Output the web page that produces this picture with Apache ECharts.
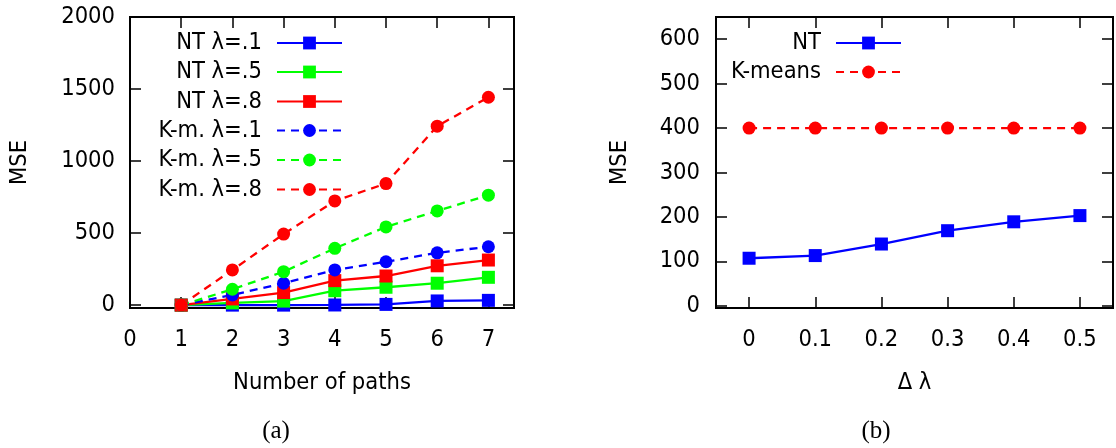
<!DOCTYPE html>
<html>
<head>
<meta charset="utf-8">
<script src="https://cdn.jsdelivr.net/npm/echarts@6/dist/echarts.min.js"></script>
<style>
html,body{margin:0;padding:0;background:#fff;}
#chart{width:1116px;height:448px;}
</style>
</head>
<body>
<div id="chart"></div>
<script>
// ---- Data (a): MSE vs number of paths ----
const paths = [1, 2, 3, 4, 5, 6, 7];
const ntL1 = [0, 0, 0, 1, 5, 29, 33];
const ntL5 = [0, 15, 28, 100, 124, 152, 193];
const ntL8 = [0, 43, 87, 170, 202, 273, 313];
const kmL1 = [0, 71, 152, 244, 301, 363, 405];
const kmL5 = [0, 110, 232, 394, 543, 654, 763];
const kmL8 = [0, 244, 493, 723, 844, 1242, 1443];
const xTicksA = [0, 1, 2, 3, 4, 5, 6, 7];
const yTicksA = [0, 500, 1000, 1500, 2000];

// ---- Data (b): MSE vs delta lambda ----
const dLambda = [0, 0.1, 0.2, 0.3, 0.4, 0.5];
const ntB = [107, 113, 139, 169, 189, 203];
const kmB = [400, 400, 400, 400, 400, 400];
const xTicksB = [0, 0.1, 0.2, 0.3, 0.4, 0.5];
const yTicksB = [0, 100, 200, 300, 400, 500, 600];

const FONT = "'DejaVu Sans Condensed', 'DejaVu Sans', sans-serif";
const FS = 23.5;
const SERIF = "'Liberation Serif', 'Times New Roman', serif";
const BLUE = '#0000ff', GREEN = '#00ff00', RED = '#ff0000';
const DASH = [8, 6];

function pairs(xs, ys) { return xs.map((x, i) => [x, ys[i]]); }

function mkSeries(name, xs, ys, color, dashed, sym, xi, yi) {
  return {
    name, type: 'line', xAxisIndex: xi, yAxisIndex: yi,
    data: pairs(xs, ys),
    symbol: sym, symbolSize: 13, clip: false,
    lineStyle: { color, width: 2.3, type: dashed ? DASH : 'solid' },
    itemStyle: { color },
    emphasis: { disabled: true },
    animation: false
  };
}

const tickStyle = { show: true, inside: true, length: 11, lineStyle: { color: '#000', width: 1.5 } };
const labelStyle = { color: '#000', fontFamily: FONT, fontSize: FS, formatter: v => String(v) };

function mainX(gi, min, max, ticks, name) {
  return {
    type: 'value', gridIndex: gi, min, max, position: 'bottom',
    axisLine: { show: false, onZero: false },
    axisTick: Object.assign({}, tickStyle, { customValues: ticks }),
    axisLabel: Object.assign({}, labelStyle, { customValues: ticks, margin: 20 }),
    splitLine: { show: false },
    name, nameLocation: 'middle', nameGap: 63,
    nameTextStyle: { color: '#000', fontFamily: FONT, fontSize: FS }
  };
}
function mirrorX(gi, min, max, ticks) {
  return {
    type: 'value', gridIndex: gi, min, max, position: 'top',
    axisLine: { show: false, onZero: false },
    axisTick: Object.assign({}, tickStyle, { customValues: ticks }),
    axisLabel: { show: false }, splitLine: { show: false }
  };
}
function mainY(gi, min, max, ticks, margin, nameGap) {
  return {
    type: 'value', gridIndex: gi, min, max, position: 'left',
    axisLine: { show: false, onZero: false },
    axisTick: Object.assign({}, tickStyle, { customValues: ticks }),
    axisLabel: Object.assign({}, labelStyle, { customValues: ticks, margin }),
    splitLine: { show: false },
    name: 'MSE', nameLocation: 'middle', nameGap, nameRotate: 90,
    nameTextStyle: { color: '#000', fontFamily: FONT, fontSize: FS }
  };
}
function mirrorY(gi, min, max, ticks) {
  return {
    type: 'value', gridIndex: gi, min, max, position: 'right',
    axisLine: { show: false, onZero: false },
    axisTick: Object.assign({}, tickStyle, { customValues: ticks }),
    axisLabel: { show: false }, splitLine: { show: false }
  };
}

function legendRow(name, right, centerY) {
  return {
    data: [name], orient: 'horizontal', align: 'right',
    right, top: centerY - 12, padding: 0,
    itemWidth: 65, itemHeight: 16, selectedMode: false,
    textStyle: { color: '#000', fontFamily: FONT, fontSize: FS, lineHeight: 24, padding: [0, 10, 0, 0] }
  };
}

const legNamesA = ['NT λ=.1', 'NT λ=.5', 'NT λ=.8', 'K-m. λ=.1', 'K-m. λ=.5', 'K-m. λ=.8'];
const legRowsA = [43, 72, 101.5, 130.5, 160, 189.5];
const legNamesB = ['NT', 'K-means'];
const legRowsB = [43, 72];

const chart = echarts.init(document.getElementById('chart'), null, { renderer: 'canvas' });
chart.setOption({
  animation: false,
  backgroundColor: '#fff',
  title: [
    { text: '(a)', left: 276, top: 419, textAlign: 'center', padding: 0,
      textStyle: { fontFamily: SERIF, fontSize: 25, fontWeight: 'normal', color: '#000' } },
    { text: '(b)', left: 876, top: 419, textAlign: 'center', padding: 0,
      textStyle: { fontFamily: SERIF, fontSize: 25, fontWeight: 'normal', color: '#000' } }
  ],
  grid: [
    { left: 130, top: 17, width: 384, height: 291, show: true, borderColor: '#000', borderWidth: 2, backgroundColor: 'transparent' },
    { left: 716, top: 17, width: 397, height: 291, show: true, borderColor: '#000', borderWidth: 2, backgroundColor: 'transparent' }
  ],
  xAxis: [
    mainX(0, 0, 7.5, xTicksA, 'Number of paths'),
    mirrorX(0, 0, 7.5, xTicksA),
    mainX(1, -0.05, 0.55, xTicksB, 'Δ λ'),
    mirrorX(1, -0.05, 0.55, xTicksB)
  ],
  yAxis: [
    mainY(0, -20, 2000, yTicksA, 15, 98),
    mirrorY(0, -20, 2000, yTicksA),
    mainY(1, -5, 650, yTicksB, 16, 84),
    mirrorY(1, -5, 650, yTicksB)
  ],
  legend: legNamesA.map((n, i) => legendRow(n, 1116 - 343, legRowsA[i]))
    .concat(legNamesB.map((n, i) => legendRow(n, 1116 - 902, legRowsB[i]))),
  series: [
    mkSeries('NT λ=.1', paths, ntL1, BLUE, false, 'rect', 0, 0),
    mkSeries('NT λ=.5', paths, ntL5, GREEN, false, 'rect', 0, 0),
    mkSeries('NT λ=.8', paths, ntL8, RED, false, 'rect', 0, 0),
    mkSeries('K-m. λ=.1', paths, kmL1, BLUE, true, 'circle', 0, 0),
    mkSeries('K-m. λ=.5', paths, kmL5, GREEN, true, 'circle', 0, 0),
    mkSeries('K-m. λ=.8', paths, kmL8, RED, true, 'circle', 0, 0),
    mkSeries('NT', dLambda, ntB, BLUE, false, 'rect', 2, 2),
    mkSeries('K-means', dLambda, kmB, RED, true, 'circle', 2, 2)
  ]
});
</script>
</body>
</html>
